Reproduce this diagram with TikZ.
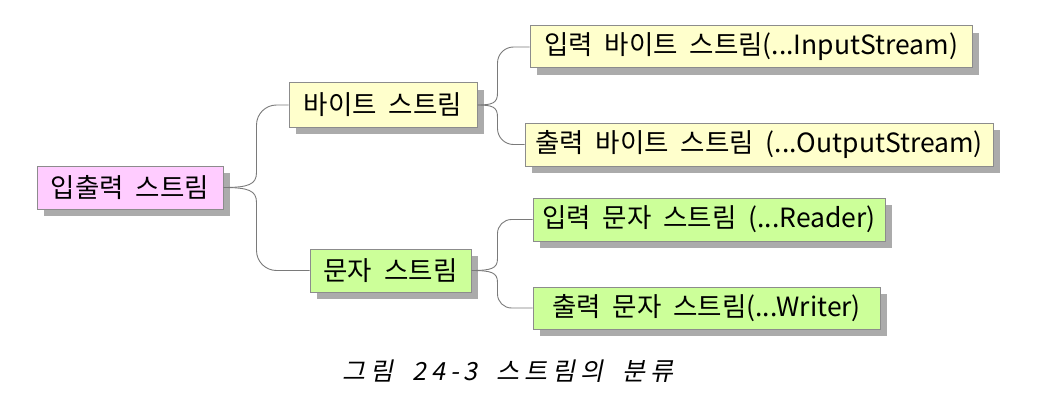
\documentclass[tikz,border=0pt]{standalone}
\usepackage{fontspec}
\setmainfont[WordSpace=2]{Noto Sans CJK KR}
\newfontfamily\capfont[FakeSlant=0.2,LetterSpace=20,WordSpace=1.8]{Noto Sans CJK KR}
\usetikzlibrary{shadows}
\definecolor{pinkc}{HTML}{FFCCFF}
\definecolor{yelc}{HTML}{FFFFCC}
\definecolor{grnc}{HTML}{CCFF99}
\definecolor{bordc}{HTML}{8C8C8C}
\definecolor{connc}{HTML}{7A7A7A}
\definecolor{shadc}{HTML}{ABABAB}
\tikzset{
  box/.style={draw=bordc, line width=1pt, inner sep=0pt, align=center,
    font=\fontsize{26.5}{28}\selectfont, text=black,
    drop shadow={shadow xshift=7pt, shadow yshift=-7pt, fill=shadc, opacity=1}},
  pinkbox/.style={box, fill=pinkc},
  yelbox/.style={box, fill=yelc},
  grnbox/.style={box, fill=grnc},
  conn/.style={draw=connc, line width=0.9pt},
}
\begin{document}
\begin{tikzpicture}[x=1pt,y=-1pt]
\useasboundingbox (0,0) rectangle (1037,404);
% nodes
\node[pinkbox, minimum width=186pt, minimum height=43pt] (root) at (130,187.5) {입출력 스트림};
\node[yelbox, minimum width=188pt, minimum height=44pt] (byte) at (383,105) {바이트 스트림};
\node[yelbox, minimum width=442pt, minimum height=42pt] (input) at (751,47) {입력 바이트 스트림(...InputStream)};
\node[yelbox, minimum width=468pt, minimum height=43pt] (output) at (759,144.5) {출력 바이트 스트림 (...OutputStream)};
\node[grnbox, minimum width=161pt, minimum height=43pt] (moonja) at (390.5,270.5) {문자 스트림};
\node[grnbox, minimum width=352pt, minimum height=43pt] (reader) at (709,219.5) {입력 문자 스트림 (...Reader)};
\node[grnbox, minimum width=347pt, minimum height=42pt] (writer) at (706.5,308) {출력 문자 스트림(...Writer)};
% connectors
\draw[conn] (root.east) .. controls +(25,0) and +(0,12) .. ++(33,-15) [rounded corners=20pt] |- (byte.west);
\draw[conn] (root.east) .. controls +(25,0) and +(0,-12) .. ++(33,15) [rounded corners=20pt] |- (moonja.west);
\draw[conn] (byte.east) .. controls +(15,0) and +(0,10) .. ++(20,-12) [rounded corners=16pt] |- (input.west);
\draw[conn] (byte.east) .. controls +(15,0) and +(0,-10) .. ++(20,12) [rounded corners=16pt] |- (output.west);
\draw[conn] (moonja.east) .. controls +(20,0) and +(0,10) .. ++(26,-12) [rounded corners=14pt] |- (reader.west);
\draw[conn] (moonja.east) .. controls +(20,0) and +(0,-10) .. ++(26,12) [rounded corners=14pt] |- (writer.west);
% caption
\node (cap) at (508,371) {\capfont\fontsize{25}{27}\selectfont 그림 24-3 스트림의 분류};
\end{tikzpicture}
\end{document}
